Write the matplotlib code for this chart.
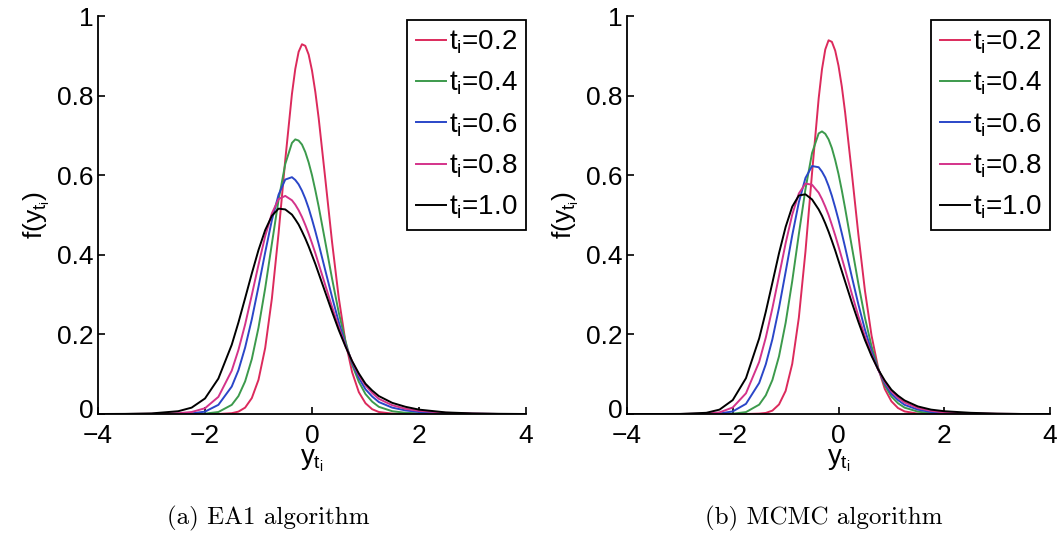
import matplotlib
matplotlib.use("Agg")
import matplotlib.pyplot as plt
from matplotlib.transforms import ScaledTranslation

plt.rcParams['font.family'] = ['Liberation Sans', 'DejaVu Sans']
plt.rcParams['mathtext.fontset'] = 'custom'
plt.rcParams['mathtext.rm'] = 'Liberation Sans'
plt.rcParams['mathtext.it'] = 'Liberation Sans'
plt.rcParams['mathtext.bf'] = 'Liberation Sans'

# Sample positions along y_{t_i}
x = [-4, -3.5, -3, -2.5, -2.25, -2, -1.75, -1.5,
     -1.375, -1.25, -1.125, -1, -0.875, -0.75, -0.625, -0.5,
     -0.375, -0.3125, -0.25, -0.1875, -0.125, -0.0625, 0, 0.0625,
     0.125, 0.25, 0.375, 0.5, 0.625, 0.75, 0.875, 1,
     1.125, 1.25, 1.5, 1.75, 2, 2.5, 3, 3.5, 4]

labels = ['$t_i$=0.2', '$t_i$=0.4', '$t_i$=0.6', '$t_i$=0.8', '$t_i$=1.0']
colors = ['#dc2a5c', '#3c9a4c', '#2a46c8', '#d4338a', '#000000']

# (a) EA1 algorithm
ea1_t02 = [0, 0, 0, 0, 0, 0, 0, 0.002,
           0.006, 0.016, 0.040, 0.086, 0.166, 0.290, 0.454, 0.638,
           0.804, 0.867, 0.910, 0.929, 0.925, 0.903, 0.863, 0.809,
           0.743, 0.589, 0.432, 0.292, 0.182, 0.105, 0.055, 0.027,
           0.012, 0.005, 0.001, 0, 0, 0, 0, 0, 0]
ea1_t04 = [0, 0, 0, 0, 0, 0.001, 0.005, 0.023,
           0.045, 0.082, 0.138, 0.217, 0.316, 0.428, 0.538, 0.628,
           0.681, 0.690, 0.687, 0.677, 0.658, 0.632, 0.600, 0.562,
           0.521, 0.431, 0.340, 0.255, 0.183, 0.124, 0.081, 0.050,
           0.031, 0.018, 0.007, 0.003, 0.0015, 0, 0, 0, 0]
ea1_t06 = [0, 0, 0, 0.0004, 0.0015, 0.006, 0.023, 0.069,
           0.110, 0.167, 0.238, 0.320, 0.406, 0.487, 0.551, 0.589,
           0.595, 0.588, 0.577, 0.561, 0.541, 0.517, 0.489, 0.459,
           0.427, 0.360, 0.294, 0.231, 0.175, 0.129, 0.091, 0.062,
           0.044, 0.030, 0.016, 0.009, 0.005, 0.002, 0.0005, 0, 0]
ea1_t08 = [0, 0, 0.0005, 0.002, 0.005, 0.0145, 0.043, 0.109,
           0.161, 0.225, 0.299, 0.375, 0.447, 0.504, 0.540, 0.548,
           0.537, 0.526, 0.512, 0.495, 0.475, 0.453, 0.429, 0.404,
           0.377, 0.323, 0.269, 0.218, 0.172, 0.132, 0.098, 0.072,
           0.053, 0.038, 0.022, 0.013, 0.008, 0.003, 0.001, 0, 0]
ea1_t10 = [0, 0.0003, 0.0015, 0.007, 0.016, 0.039, 0.089, 0.174,
           0.230, 0.291, 0.353, 0.412, 0.462, 0.498, 0.516, 0.514,
           0.501, 0.489, 0.476, 0.459, 0.441, 0.421, 0.399, 0.377,
           0.353, 0.305, 0.257, 0.211, 0.170, 0.133, 0.102, 0.076,
           0.059, 0.045, 0.028, 0.018, 0.011, 0.004, 0.0015, 0.0005, 0]

# (b) MCMC algorithm
mcmc_t02 = [0, 0, 0, 0, 0, 0, 0, 0.001,
            0.0027, 0.0085, 0.024, 0.058, 0.126, 0.242, 0.408, 0.606,
            0.793, 0.866, 0.916, 0.939, 0.935, 0.913, 0.875, 0.823,
            0.758, 0.608, 0.452, 0.310, 0.197, 0.116, 0.063, 0.032,
            0.015, 0.0065, 0.001, 0, 0, 0, 0, 0, 0]
mcmc_t04 = [0, 0, 0, 0, 0, 0.0007, 0.0048, 0.0235,
            0.047, 0.0855, 0.145, 0.229, 0.334, 0.452, 0.565, 0.656,
            0.705, 0.710, 0.704, 0.690, 0.668, 0.638, 0.603, 0.562,
            0.517, 0.422, 0.328, 0.242, 0.170, 0.114, 0.072, 0.044,
            0.027, 0.016, 0.006, 0.002, 0.0008, 0, 0, 0, 0]
mcmc_t06 = [0, 0, 0, 0.0002, 0.0013, 0.0065, 0.0255, 0.078,
            0.125, 0.188, 0.267, 0.357, 0.449, 0.532, 0.593, 0.623,
            0.620, 0.609, 0.594, 0.573, 0.548, 0.519, 0.488, 0.454,
            0.419, 0.346, 0.276, 0.212, 0.157, 0.112, 0.077, 0.051,
            0.035, 0.023, 0.011, 0.005, 0.002, 0.0005, 0, 0, 0]
mcmc_t08 = [0, 0, 0, 0.0008, 0.0041, 0.0164, 0.052, 0.131,
            0.192, 0.266, 0.347, 0.429, 0.501, 0.554, 0.579, 0.576,
            0.556, 0.540, 0.521, 0.500, 0.475, 0.449, 0.421, 0.392,
            0.363, 0.303, 0.246, 0.195, 0.149, 0.111, 0.081, 0.057,
            0.041, 0.029, 0.015, 0.008, 0.004, 0.0015, 0.0005, 0, 0]
mcmc_t10 = [0, 0, 0.0002, 0.003, 0.011, 0.035, 0.090, 0.190,
            0.257, 0.330, 0.404, 0.470, 0.521, 0.549, 0.552, 0.539,
            0.514, 0.498, 0.479, 0.458, 0.435, 0.411, 0.385, 0.359,
            0.333, 0.281, 0.232, 0.186, 0.146, 0.112, 0.084, 0.061,
            0.046, 0.034, 0.019, 0.011, 0.007, 0.003, 0.001, 0, 0]

panels = [
    ([ea1_t02, ea1_t04, ea1_t06, ea1_t08, ea1_t10], '(a) EA1 algorithm'),
    ([mcmc_t02, mcmc_t04, mcmc_t06, mcmc_t08, mcmc_t10], '(b) MCMC algorithm'),
]

xticks = [-4, -2, 0, 2, 4]
xticklabels = ['\u22124', '\u22122', '0', '2', '4']
yticks = [0, 0.2, 0.4, 0.6, 0.8, 1]
yticklabels = ['0', '0.2', '0.4', '0.6', '0.8', '1']

W, H = 1062, 539
fig = plt.figure(figsize=(W / 100, H / 100), dpi=100)
rects = [[98 / W, 1 - 414 / H, 428 / W, 398 / H],
         [627 / W, 1 - 414 / H, 423 / W, 398 / H]]
caption_x = [268 / W, 824 / W]

for rect, (series, caption), cx in zip(rects, panels, caption_x):
    ax = fig.add_axes(rect)
    for ys, lab, col in zip(series, labels, colors):
        ax.plot(x, ys, color=col, lw=1.4, label=lab)
    ax.set_xlim(-4, 4)
    ax.set_ylim(0, 1)
    ax.set_xticks(xticks)
    ax.set_xticklabels(xticklabels)
    ax.set_yticks(yticks)
    ax.set_yticklabels(yticklabels)
    ax.spines['top'].set_visible(False)
    ax.spines['right'].set_visible(False)
    for sp in ('left', 'bottom'):
        ax.spines[sp].set_linewidth(1.3)
    ax.tick_params(direction='in', length=5, width=1.2, labelsize=19)
    ax.tick_params(axis='x', pad=7)
    ax.tick_params(axis='y', pad=3)
    # nudge the "0" label of the y axis up so it clears the x tick labels
    zero_lab = ax.yaxis.get_major_ticks()[0].label1
    zero_lab.set_transform(zero_lab.get_transform()
                           + ScaledTranslation(0, 4 / 72, fig.dpi_scale_trans))
    ax.set_xlabel(r'$y_{t_i}$', fontsize=20, labelpad=0)
    ax.set_ylabel(r'$f(y_{t_i})$', fontsize=19, labelpad=4)
    leg = ax.legend(loc='upper right', bbox_to_anchor=(1.0, 1.0 - 4 / 398), fontsize=20,
                    handlelength=1.1, handletextpad=0.1, labelspacing=0.5,
                    borderpad=0.3, fancybox=False, framealpha=1, edgecolor='black',
                    borderaxespad=0.0)
    leg.get_frame().set_linewidth(1.3)
    fig.text(cx, 1 - 518 / H, caption, ha='center', va='center',
             fontsize=18, family='cmr10')

fig.savefig('out.png', dpi=100)
